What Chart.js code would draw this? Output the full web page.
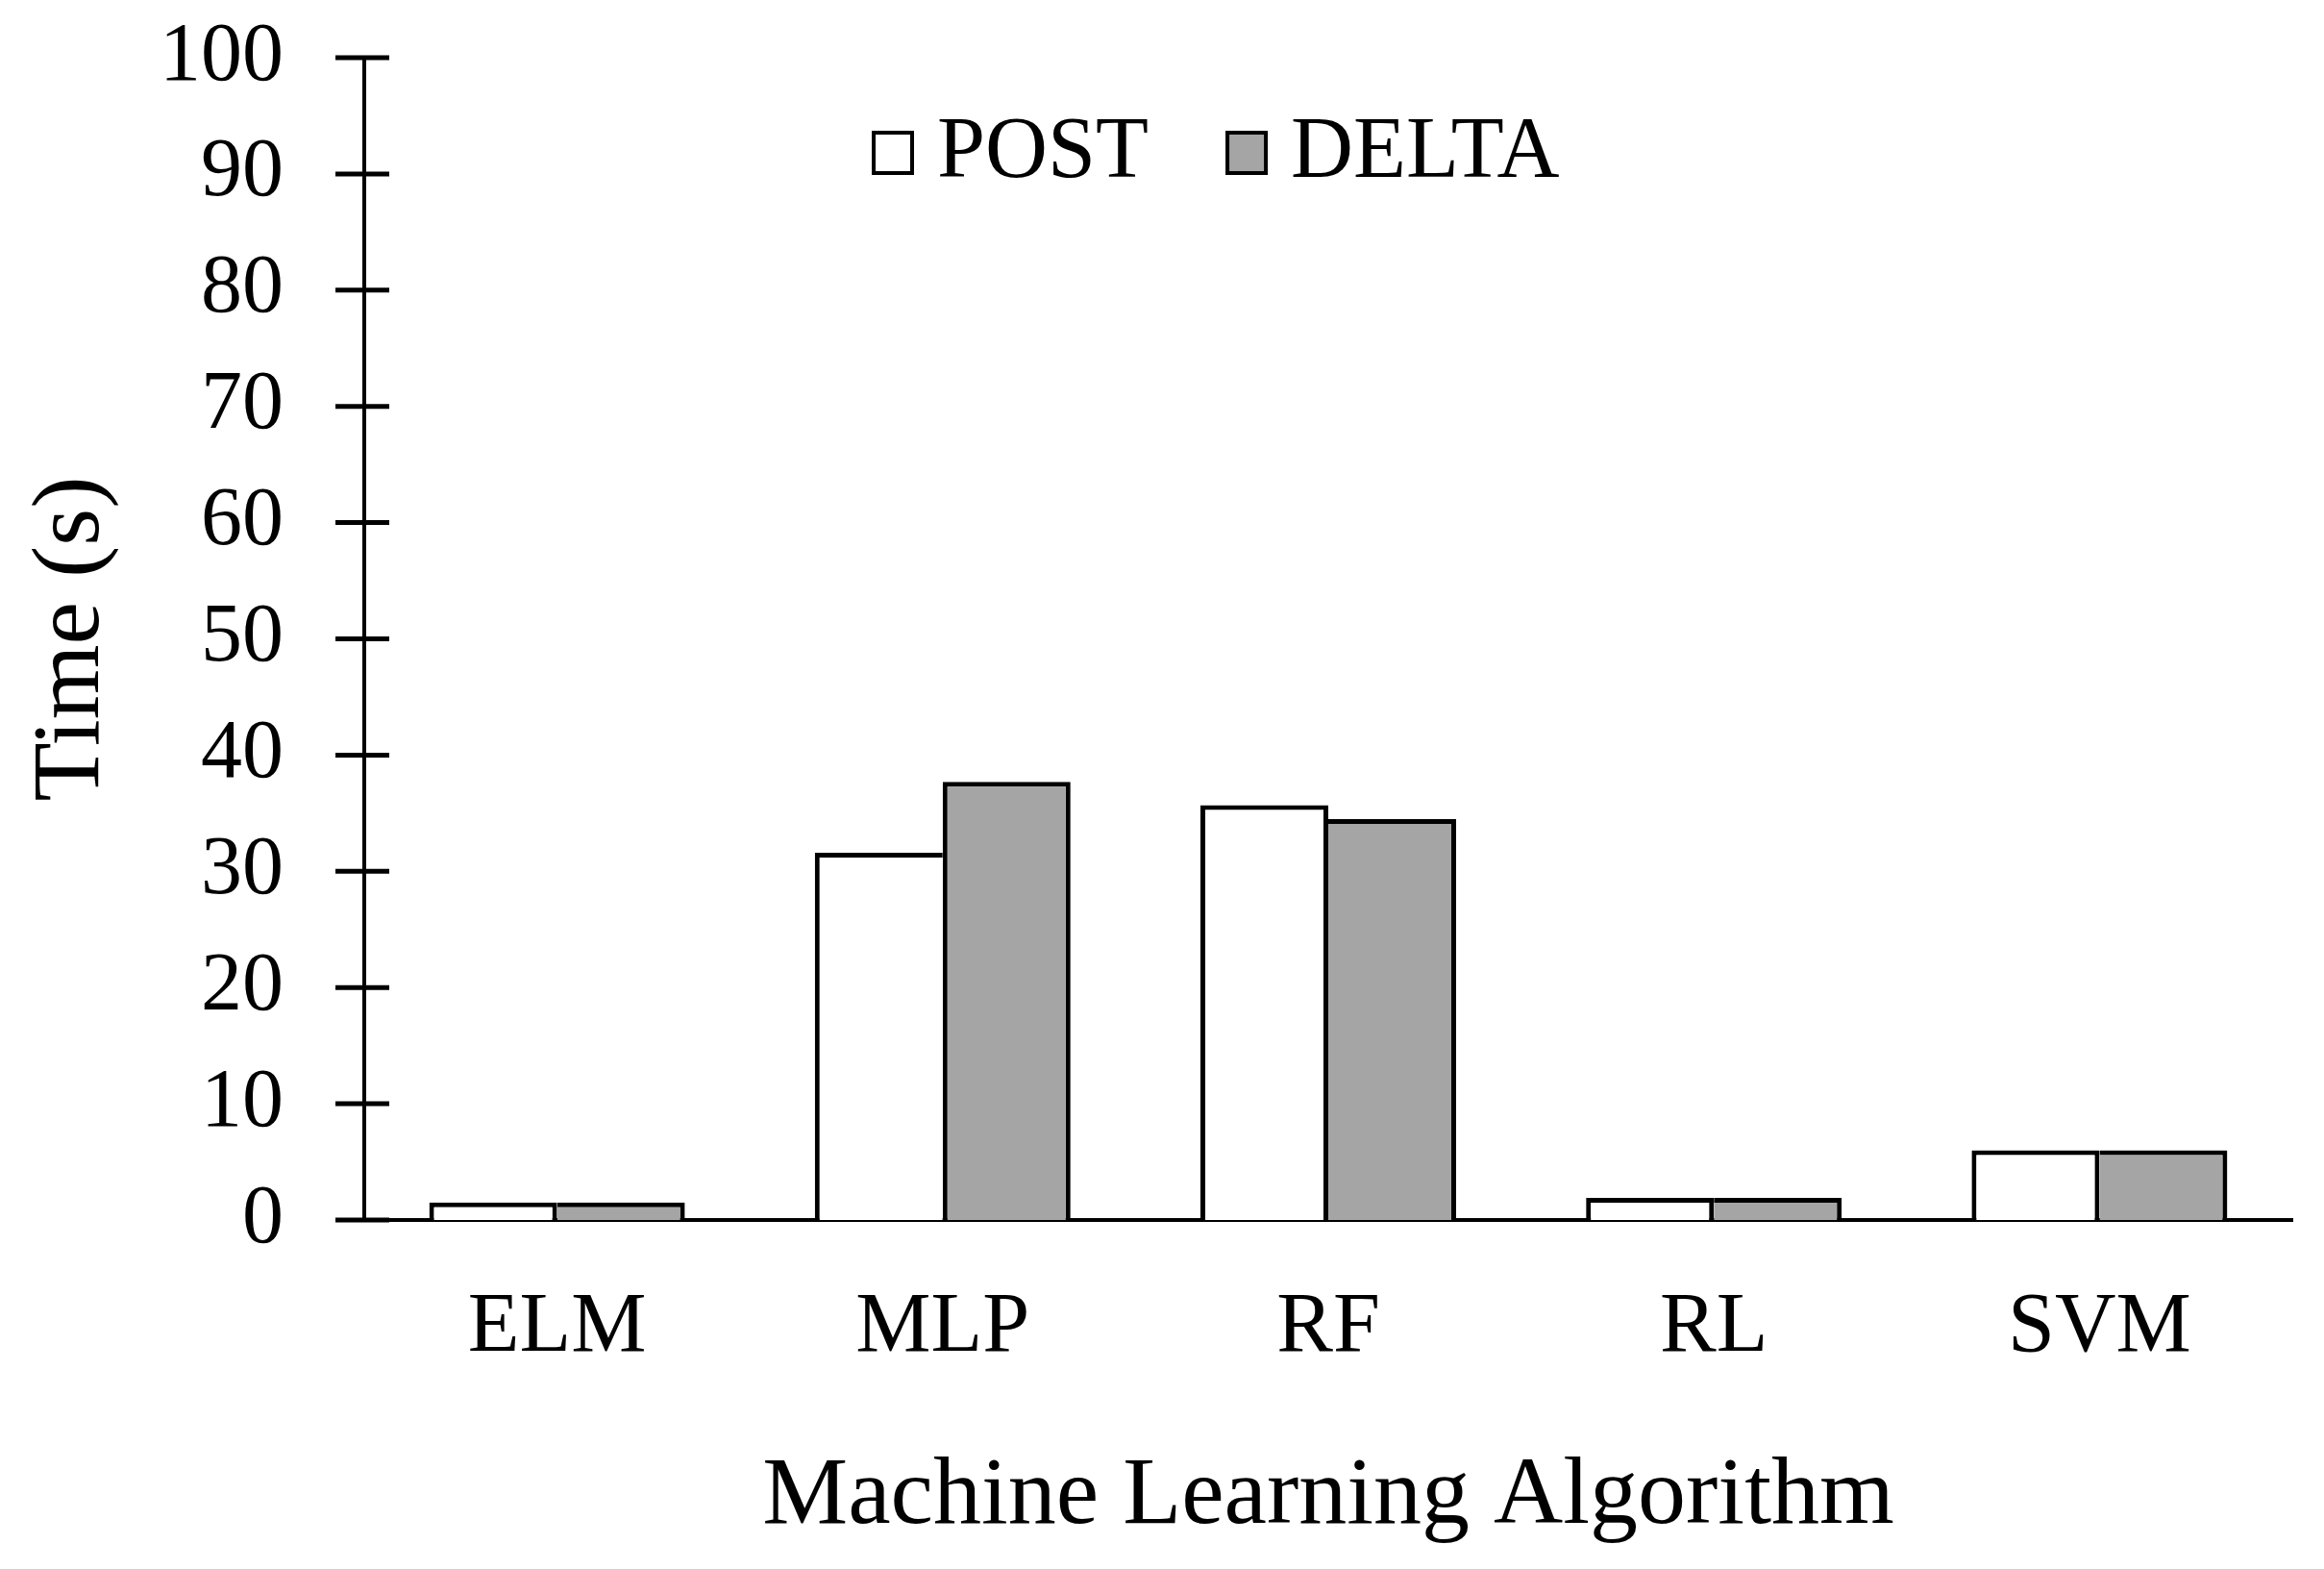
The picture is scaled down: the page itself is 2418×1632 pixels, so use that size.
<!DOCTYPE html>
<html>
<head>
<meta charset="utf-8">
<script src="https://cdn.jsdelivr.net/npm/chart.js@4/dist/chart.umd.min.js"></script>
<style>
  body { margin: 0; background: #fff; }
</style>
</head>
<body>
<canvas id="timeChart" width="2418" height="1632"></canvas>
<script>
// chart data
const categories = ['ELM', 'MLP', 'RF', 'RL', 'SVM'];
const postTimes = [1.5, 31.6, 35.7, 1.9, 6.0];
const deltaTimes = [1.5, 37.7, 34.5, 1.9, 6.0];
const yTicks = [0, 10, 20, 30, 40, 50, 60, 70, 80, 90, 100];

Chart.defaults.font.family = "'Liberation Serif', 'Times New Roman', serif";
Chart.defaults.color = '#000';

// ticks that cross the y axis
const crossTicks = {
  id: 'crossTicks',
  afterDraw(chart) {
    const ctx = chart.ctx;
    const y = chart.scales.y;
    const left = chart.chartArea.left;
    ctx.save();
    ctx.strokeStyle = '#000';
    ctx.lineWidth = 5;
    y.ticks.forEach(t => {
      const py = y.getPixelForValue(t.value);
      ctx.beginPath();
      ctx.moveTo(left - 30, py);
      ctx.lineTo(left + 26, py);
      ctx.stroke();
    });
    ctx.restore();
  }
};

// legend drawn inside the plot
const innerLegend = {
  id: 'innerLegend',
  afterDraw(chart) {
    const ctx = chart.ctx;
    let x = 907;
    ctx.save();
    ctx.font = "90px 'Liberation Serif', 'Times New Roman', serif";
    ctx.textBaseline = 'middle';
    chart.data.datasets.forEach(ds => {
      ctx.fillStyle = ds.backgroundColor;
      ctx.fillRect(x + 2, 138, 40, 42);
      ctx.strokeStyle = '#000';
      ctx.lineWidth = 4;
      ctx.strokeRect(x + 2, 138, 40, 42);
      ctx.fillStyle = '#000';
      ctx.fillText(ds.label, x + 68, 160);
      x += 68 + ctx.measureText(ds.label).width + 80;
    });
    ctx.restore();
  }
};

new Chart(document.getElementById('timeChart'), {
  type: 'bar',
  data: {
    labels: categories,
    datasets: [{
      label: 'POST',
      data: postTimes,
      backgroundColor: '#ffffff',
      borderColor: '#000',
      borderWidth: c => ({ top: 5, left: 5, bottom: 0, right: postTimes[c.dataIndex] >= deltaTimes[c.dataIndex] ? 5 : 0 }),
      barPercentage: 1,
      categoryPercentage: 0.663
    }, {
      label: 'DELTA',
      data: deltaTimes,
      backgroundColor: '#a5a5a5',
      borderColor: '#000',
      borderWidth: c => ({ top: 5, right: 5, bottom: 0, left: deltaTimes[c.dataIndex] > postTimes[c.dataIndex] ? 5 : 0 }),
      barPercentage: 1,
      categoryPercentage: 0.663
    }]
  },
  options: {
    responsive: false,
    animation: false,
    layout: { autoPadding: false, padding: { top: 60, left: 16, right: 33, bottom: 0 } },
    plugins: {
      legend: { display: false },
      tooltip: { enabled: false }
    },
    scales: {
      x: {
        grid: { display: false },
        border: { display: true, color: '#000', width: 4 },
        ticks: { font: { size: 88 }, padding: 52 },
        title: { display: true, text: 'Machine Learning Algorithm', font: { size: 100 }, padding: { top: 0, bottom: 14 } },
        afterFit: s => { s.height = 363; s.paddingLeft = 0; s.paddingRight = 0; }
      },
      y: {
        min: 0,
        max: 100,
        afterBuildTicks: s => { s.ticks = yTicks.map(v => ({ value: v })); },
        grid: { display: false },
        border: { display: true, color: '#000', width: 4 },
        ticks: { font: { size: 86 }, padding: 76 },
        title: { display: true, text: 'Time (s)', font: { size: 100 }, padding: { top: 0, bottom: 0 } },
        afterFit: s => { s.width = 363; s.paddingTop = 0; s.paddingBottom = 0; }
      }
    }
  },
  plugins: [crossTicks, innerLegend]
});
</script>
</body>
</html>
